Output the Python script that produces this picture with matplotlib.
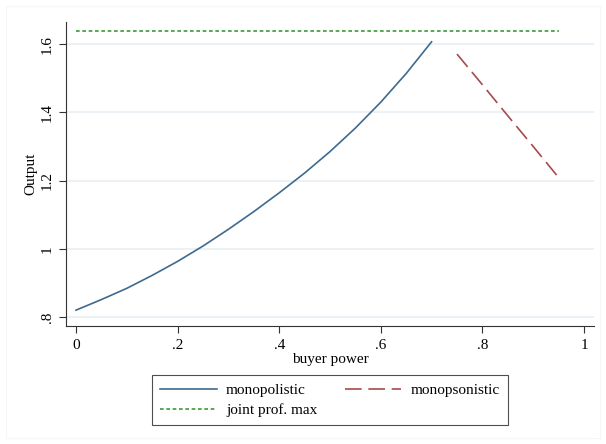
#!/usr/bin/env python3

import matplotlib
matplotlib.use('Agg')
import matplotlib.pyplot as plt
from matplotlib.patches import Rectangle

plt.rcParams['font.family'] = ['Liberation Serif', 'DejaVu Serif']

# monopolistic output vs buyer power
mono_x = [0.00, 0.05, 0.10, 0.15, 0.20, 0.25, 0.30, 0.35,
          0.40, 0.45, 0.50, 0.55, 0.60, 0.65, 0.70]
mono_y = [0.820, 0.851, 0.884, 0.922, 0.963, 1.008, 1.057, 1.109,
          1.164, 1.222, 1.285, 1.354, 1.430, 1.514, 1.607]

# monopsonistic output
mops_x = [0.75, 0.80, 0.85, 0.90, 0.95]
mops_y = [1.571, 1.481, 1.390, 1.300, 1.209]

# joint profit max
joint_x = [0.0, 0.95]
joint_y = [1.638, 1.638]

xticks = [0, 0.2, 0.4, 0.6, 0.8, 1.0]
xticklabels = ['0', '.2', '.4', '.6', '.8', '1']
yticks = [0.8, 1.0, 1.2, 1.4, 1.6]
yticklabels = ['.8', '1', '1.2', '1.4', '1.6']

blue = '#3e6a8f'
red = '#a8494d'
green = '#3a9a3a'

fig = plt.figure(figsize=(6.06, 4.44), dpi=100)
# faint outer frame of the graph region
fig.patches.append(Rectangle((6/606, 6/444), 594/606, 432/444, transform=fig.transFigure,
                             fill=False, ec='#f5f6f7', lw=0.8))
ax = fig.add_axes([66/606, 1-326/444, 528/606, 304/444])

ax.plot(mono_x, mono_y, color=blue, lw=1.2, label='monopolistic')
ax.plot(mops_x, mops_y, color=red, lw=1.2, dashes=(10, 4), label='monopsonistic')
ax.plot(joint_x, joint_y, color=green, lw=1.2, dashes=(2.2, 1.6), label='joint prof. max')

ax.set_xlim(-0.0197, 1.0197)
ax.set_ylim(0.7735, 1.665)

ax.set_xticks(xticks)
ax.set_xticklabels(xticklabels, fontsize=11)
ax.set_yticks(yticks)
ax.set_yticklabels(yticklabels, fontsize=11, rotation=90, va='center')
ax.tick_params(direction='out', length=5, width=0.8, color='#333333', pad=4)

ax.yaxis.grid(True, color='#e8eff2', lw=1.2)
ax.set_axisbelow(True)
for s in ['top', 'right']:
    ax.spines[s].set_visible(False)
for s in ['left', 'bottom']:
    ax.spines[s].set_color('#333333')
    ax.spines[s].set_linewidth(0.8)

ax.set_xlabel('buyer power', fontsize=11, labelpad=1)
ax.set_ylabel('Output', fontsize=11, labelpad=2)

h, l = ax.get_legend_handles_labels()
# column-wise fill: monopolistic, joint | monopsonistic
leg = fig.legend([h[0], h[2], h[1]], [l[0], l[2], l[1]], ncol=2,
                 loc='upper left', bbox_to_anchor=(152/606, 1-375/444),
                 borderaxespad=0, fontsize=11, frameon=True, fancybox=False,
                 edgecolor='#222222', handlelength=3.7, handletextpad=0.6,
                 columnspacing=1.8, borderpad=0.55, labelspacing=0.4)
leg.get_frame().set_linewidth(0.8)

fig.savefig('out.png', dpi=100)
